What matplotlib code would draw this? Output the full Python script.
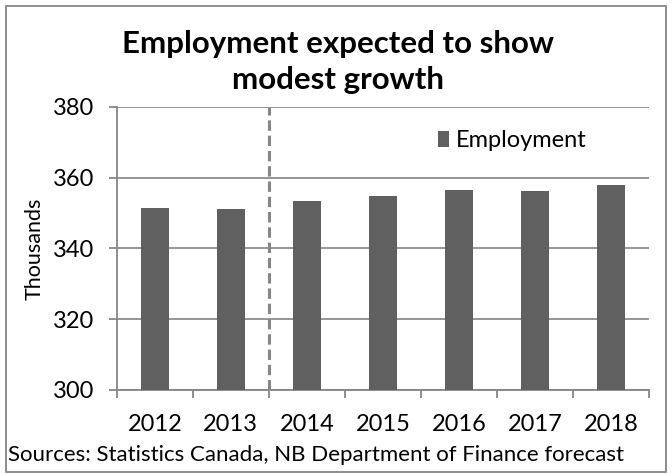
import matplotlib
matplotlib.use("Agg")
import matplotlib.pyplot as plt
from matplotlib.patches import Rectangle

years = ["2012", "2013", "2014", "2015", "2016", "2017", "2018"]
employment = [351.3, 351.1, 353.4, 354.8, 356.4, 356.3, 357.8]
y_ticks = [300, 320, 340, 360, 380]

plt.rcParams['font.family'] = ['Lato', 'DejaVu Sans']

fig = plt.figure(figsize=(6.72, 4.75), dpi=100)
ax = fig.add_axes([0.1737, 0.179, 0.7923, 0.596])

x = list(range(len(years)))
ax.bar(x, employment, width=0.37, color='#606060', label='Employment', zorder=3)

ax.set_xlim(-0.5, len(years) - 0.5)
ax.set_ylim(300, 380)
ax.set_yticks(y_ticks)
ax.set_yticklabels([str(v) for v in y_ticks], fontsize=17)
ax.set_xticks([i + 0.5 for i in range(-1, len(years))], minor=False)
ax.set_xticklabels([""] * (len(years) + 1))
ax.set_xticks(x, minor=True)
ax.set_xticklabels(years, minor=True, fontsize=17)
ax.tick_params(axis='x', which='minor', length=0, pad=17)
ax.tick_params(axis='x', which='major', length=6, color='#868686', width=1.3)
ax.tick_params(axis='y', length=6, color='#868686', width=1.3, pad=10)

ax.grid(axis='y', color='#8c8c8c', linewidth=1.3, zorder=0)
for side in ['top', 'right']:
    ax.spines[side].set_visible(False)
for side in ['left', 'bottom']:
    ax.spines[side].set_color('#868686')
    ax.spines[side].set_linewidth(1.3)

# forecast divider between 2013 and 2014
ax.axvline(1.5, color='#868686', linestyle=(0, (3.4, 1.6)), linewidth=2.2, zorder=4)

ax.set_ylabel("Thousands", fontsize=15.5, labelpad=6)

ax.legend(loc='center right', bbox_to_anchor=(0.905, 0.88), frameon=False, fontsize=17,
          handlelength=0.45, handleheight=0.7, handletextpad=0.3, borderpad=0)

fig.text(0.503, 0.870, "Employment expected to show\nmodest growth", ha='center', va='center',
         fontsize=22.5, fontweight='bold', linespacing=1.33)
fig.text(0.012, 0.042, "Sources: Statistics Canada, NB Department of Finance forecast",
         ha='left', va='center', fontsize=16)

fig.patches.append(Rectangle((0.009, 0.006), 0.982, 0.982, transform=fig.transFigure,
                             fill=False, edgecolor='#868686', linewidth=1.3))

fig.savefig("out.png", dpi=100)
